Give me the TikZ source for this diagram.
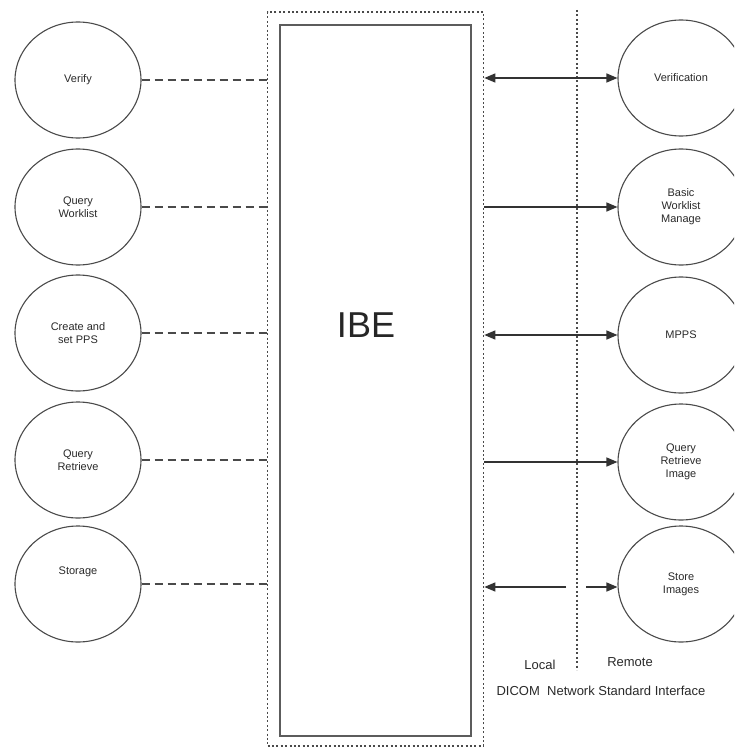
\documentclass[tikz,border=0pt]{standalone}
\usepackage{fontspec}
\setmainfont{Liberation Sans}
\usetikzlibrary{arrows.meta,calc,shapes.geometric}
\definecolor{lc}{HTML}{4A4A4A}
\definecolor{tc}{HTML}{2A2A2A}
\begin{document}
\begin{tikzpicture}[x=1pt,y=-1pt,
  circ/.style={draw=lc,line width=1.1pt,ellipse,minimum width=126pt,minimum height=116pt,inner sep=0pt,align=center,font=\fontsize{11}{13}\selectfont,text=tc},
  dashln/.style={draw=lc,line width=1.3pt,dash pattern=on 8pt off 5pt},
  dotln/.style={draw=lc,line width=1.6pt,dash pattern=on 2pt off 2.4pt},
  arr/.style={draw=black!80,line width=1.4pt,-{Triangle[length=11pt,width=9pt]}},
  darr/.style={draw=black!80,line width=1.4pt,{Triangle[length=11pt,width=9pt]}-{Triangle[length=11pt,width=9pt]}},
  lbl/.style={font=\fontsize{13}{15}\selectfont,text=tc,inner sep=0pt}
]
\useasboundingbox (0,0) rectangle (734,749);
\fill[white] (0,0) rectangle (734,749);
\begin{scope}
\clip (0,0) rectangle (734,749);
% outer dotted box and inner IBE box
\node[dotln,draw,minimum width=216pt,minimum height=734pt,inner sep=0pt] (outer) at (375.5,379) {};
\node[draw=lc!90,line width=2pt,minimum width=191pt,minimum height=711pt,inner sep=0pt] (ibe) at (375.5,380.5) {};
\node[font=\fontsize{36}{40}\selectfont,text=black!85] (ibetxt) at (366,325) {IBE};
% separator line
\coordinate (sepT) at (577,10);
\coordinate (sepB) at (577,670);
\draw[dotln] (sepT) -- (sepB);
% left circles
\node[circ] (verify) at (78,80) {Verify};
\node[circ] (qwl) at (78,207) {Query\\Worklist};
\node[circ] (cpps) at (78,333) {Create and\\set PPS};
\node[circ] (qr) at (78,460) {Query\\Retrieve};
\node[circ] (stor) at (78,584) {Storage\\[14pt]};
% right circles
\node[circ] (verif) at (681,78) {Verification};
\node[circ] (bwm) at (681,207) {Basic\\Worklist\\Manage};
\node[circ] (mpps) at (681,335) {MPPS};
\node[circ] (qri) at (681,462) {Query\\Retrieve\\Image};
\node[circ] (sti) at (681,584) {Store\\Images};
% dashed connectors
\foreach \n in {verify,qwl,cpps,qr,stor}
  \draw[dashln] (\n.east) -- (\n.east -| outer.west);
% arrows
\draw[darr] (verif.west -| outer.east) -- (verif.west);
\draw[arr] (bwm.west -| outer.east) -- (bwm.west);
\draw[darr] (mpps.west -| outer.east) -- (mpps.west);
\draw[arr] (qri.west -| outer.east) -- (qri.west);
\coordinate (sa) at (566,587);
\coordinate (sb) at (586,587);
\draw[arr] (sa) -- (sa -| outer.east);
\draw[arr] (sb) -- (sb -| sti.west);
% labels
\node[lbl] (local) at (540,665) {Local};
\node[lbl] (remote) at (630,662) {Remote};
\node[lbl] (dicom) at (601,691) {DICOM\ \ Network Standard Interface};
\end{scope}
\end{tikzpicture}
\end{document}
